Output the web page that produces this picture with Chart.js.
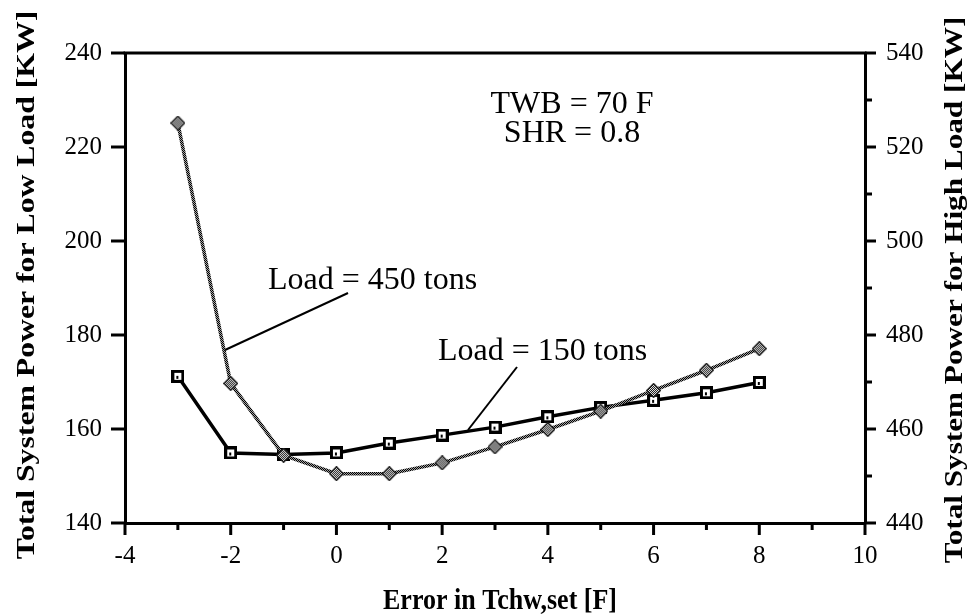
<!DOCTYPE html>
<html><head><meta charset="utf-8">
<script src="https://cdn.jsdelivr.net/npm/chart.js@4/dist/chart.umd.min.js"></script>
<style>html,body{margin:0;padding:0;background:#fff;}#wrap{width:973px;height:615px;}</style>
</head><body><div id="wrap"><canvas id="c" width="973" height="615"></canvas></div>
<script>
// ---- data ----
const errorTchw = [-3, -2, -1, 0, 1, 2, 3, 4, 5, 6, 7, 8];
const lowLoadKW = [171.2, 154.9, 154.6, 154.9, 157.0, 158.7, 160.4, 162.6, 164.6, 166.1, 167.7, 169.9];
const highLoadKW = [525.1, 469.7, 454.4, 450.5, 450.5, 452.8, 456.2, 459.9, 463.8, 468.2, 472.5, 477.1];
const xRange = [-4, 10];
const leftRange = [140, 240];
const rightRange = [440, 540];
const xTitle = 'Error in Tchw,set [F]';
const leftTitle = 'Total System Power for Low Load [KW]';
const rightTitle = 'Total System Power for High Load [KW]';
const notes = ['TWB = 70 F', 'SHR = 0.8'];
const seriesLabels = ['Load = 150 tons', 'Load = 450 tons'];

// ---- styles ----
const canvas = document.getElementById('c');
const ctx0 = canvas.getContext('2d');
function checkerCanvas(dark, light) {
  const c = document.createElement('canvas'); c.width = 2; c.height = 2;
  const g = c.getContext('2d');
  g.fillStyle = light; g.fillRect(0, 0, 2, 2);
  g.fillStyle = dark; g.fillRect(0, 0, 1, 1); g.fillRect(1, 1, 1, 1);
  return c;
}
const grayPattern = ctx0.createPattern(checkerCanvas('#000', '#a0a0a0'), 'repeat');

function squareMarker() {
  const c = document.createElement('canvas'); c.width = 13; c.height = 13;
  const g = c.getContext('2d');
  g.fillStyle = '#000'; g.fillRect(0, 0, 13, 13);
  g.fillStyle = '#fff'; g.fillRect(3, 3, 7, 7);
  g.fillStyle = '#000'; g.fillRect(5, 6, 2, 3);
  return c;
}
function diamondMarker() {
  const c = document.createElement('canvas'); c.width = 15; c.height = 15;
  const g = c.getContext('2d');
  g.beginPath(); g.moveTo(7.5, 0.5); g.lineTo(14.5, 7.5); g.lineTo(7.5, 14.5); g.lineTo(0.5, 7.5); g.closePath();
  g.fillStyle = g.createPattern(checkerCanvas('#000', '#fff'), 'repeat'); g.fill();
  g.strokeStyle = '#222'; g.lineWidth = 1.2; g.stroke();
  return c;
}

const FONT = 'Liberation Serif';

function drawText(ctx, text, x, y, font, sx, sy, rot, align, baseline) {
  ctx.save();
  ctx.translate(x, y); ctx.rotate(rot); ctx.scale(sx, sy);
  ctx.font = font; ctx.textAlign = align; ctx.textBaseline = baseline; ctx.fillStyle = '#000';
  ctx.fillText(text, 0, 0);
  ctx.restore();
}

const decor = {
  id: 'decor',
  afterDraw(chart) {
    const ctx = chart.ctx;
    const a = chart.chartArea;
    const sx = chart.scales.x, sy = chart.scales.y, sy2 = chart.scales.y2;
    ctx.save();
    ctx.strokeStyle = '#000'; ctx.lineCap = 'butt';
    // top frame line
    ctx.lineWidth = 3;
    ctx.beginPath(); ctx.moveTo(a.left - 1.5, a.top); ctx.lineTo(a.right + 1.5, a.top); ctx.stroke();
    // x ticks
    sx.ticks.forEach(t => {
      const p = sx.getPixelForValue(t.value);
      const len = (Math.round(t.value) % 2 === 0) ? 12 : 7;
      ctx.beginPath(); ctx.moveTo(p, a.bottom); ctx.lineTo(p, a.bottom + len); ctx.stroke();
    });
    // left ticks
    sy.ticks.forEach(t => {
      const p = sy.getPixelForValue(t.value);
      ctx.beginPath(); ctx.moveTo(a.left - 14, p); ctx.lineTo(a.left, p); ctx.stroke();
    });
    // right ticks
    sy2.ticks.forEach(t => {
      const p = sy2.getPixelForValue(t.value);
      const len = (Math.round(t.value) % 20 === 0) ? 11 : 7;
      ctx.beginPath(); ctx.moveTo(a.right, p); ctx.lineTo(a.right + len, p); ctx.stroke();
    });
    // leader lines
    ctx.lineWidth = 2;
    ctx.beginPath(); ctx.moveTo(348, 293); ctx.lineTo(225, 350); ctx.stroke();
    ctx.beginPath(); ctx.moveTo(517, 367); ctx.lineTo(468, 430); ctx.stroke();
    ctx.restore();

    // annotations
    const nf = '32px "' + FONT + '"';
    drawText(ctx, seriesLabels[1], 268, 289, nf, 1, 1, 0, 'left', 'alphabetic');
    drawText(ctx, seriesLabels[0], 438, 360, nf, 1, 1, 0, 'left', 'alphabetic');
    drawText(ctx, notes[0], 572, 113, nf, 1, 1, 0, 'center', 'alphabetic');
    drawText(ctx, notes[1], 572, 141.5, nf, 1, 1, 0, 'center', 'alphabetic');
    // axis titles
    const tf = 'bold 26px "' + FONT + '"';
    drawText(ctx, xTitle, (a.left + a.right) / 2 + 5, 609, tf, 1, 1.15, 0, 'center', 'alphabetic');
    drawText(ctx, leftTitle, 27, 285, tf, 1.22, 1, -Math.PI / 2, 'center', 'middle');
    drawText(ctx, rightTitle, 955, 290, tf, 1.2, 1, -Math.PI / 2, 'center', 'middle');
  }
};

const tickFont = { family: FONT, size: 25 };

new Chart(canvas, {
  type: 'line',
  data: {
    datasets: [
      {
        label: seriesLabels[1],
        data: errorTchw.map((x, i) => ({ x: x, y: highLoadKW[i] })),
        yAxisID: 'y2',
        borderColor: grayPattern,
        borderWidth: 3.5,
        pointStyle: diamondMarker(),
        pointRadius: 7,
        order: 0,
        tension: 0
      },
      {
        label: seriesLabels[0],
        data: errorTchw.map((x, i) => ({ x: x, y: lowLoadKW[i] })),
        yAxisID: 'y',
        borderColor: '#000',
        borderWidth: 3.5,
        pointStyle: squareMarker(),
        pointRadius: 7,
        order: 1,
        tension: 0
      }
    ]
  },
  options: {
    responsive: false,
    animation: false,
    devicePixelRatio: 1,
    layout: { padding: { top: 53, left: 0, right: 0, bottom: 0 } },
    plugins: { legend: { display: false }, tooltip: { enabled: false } },
    scales: {
      x: {
        type: 'linear', min: xRange[0], max: xRange[1],
        ticks: { stepSize: 1, autoSkip: false, maxRotation: 0, color: '#000', font: tickFont, padding: 18,
          callback: v => (Math.round(v) % 2 === 0 ? String(v) : '') },
        grid: { display: false, drawTicks: false },
        border: { display: true, width: 3, color: '#000' },
        afterFit: s => { s.height = 92; }
      },
      y: {
        type: 'linear', position: 'left', min: leftRange[0], max: leftRange[1],
        ticks: { stepSize: 20, color: '#000', font: tickFont, padding: 23 },
        grid: { display: false, drawTicks: false },
        border: { display: true, width: 3, color: '#000' },
        afterFit: s => { s.width = 125; }
      },
      y2: {
        type: 'linear', position: 'right', min: rightRange[0], max: rightRange[1],
        ticks: { stepSize: 10, color: '#000', font: tickFont, padding: 21,
          callback: v => (Math.round(v) % 20 === 0 ? String(v) : '') },
        grid: { display: false, drawTicks: false },
        border: { display: true, width: 3, color: '#000' },
        afterFit: s => { s.width = 108; }
      }
    }
  },
  plugins: [decor]
});
</script>
</body></html>
